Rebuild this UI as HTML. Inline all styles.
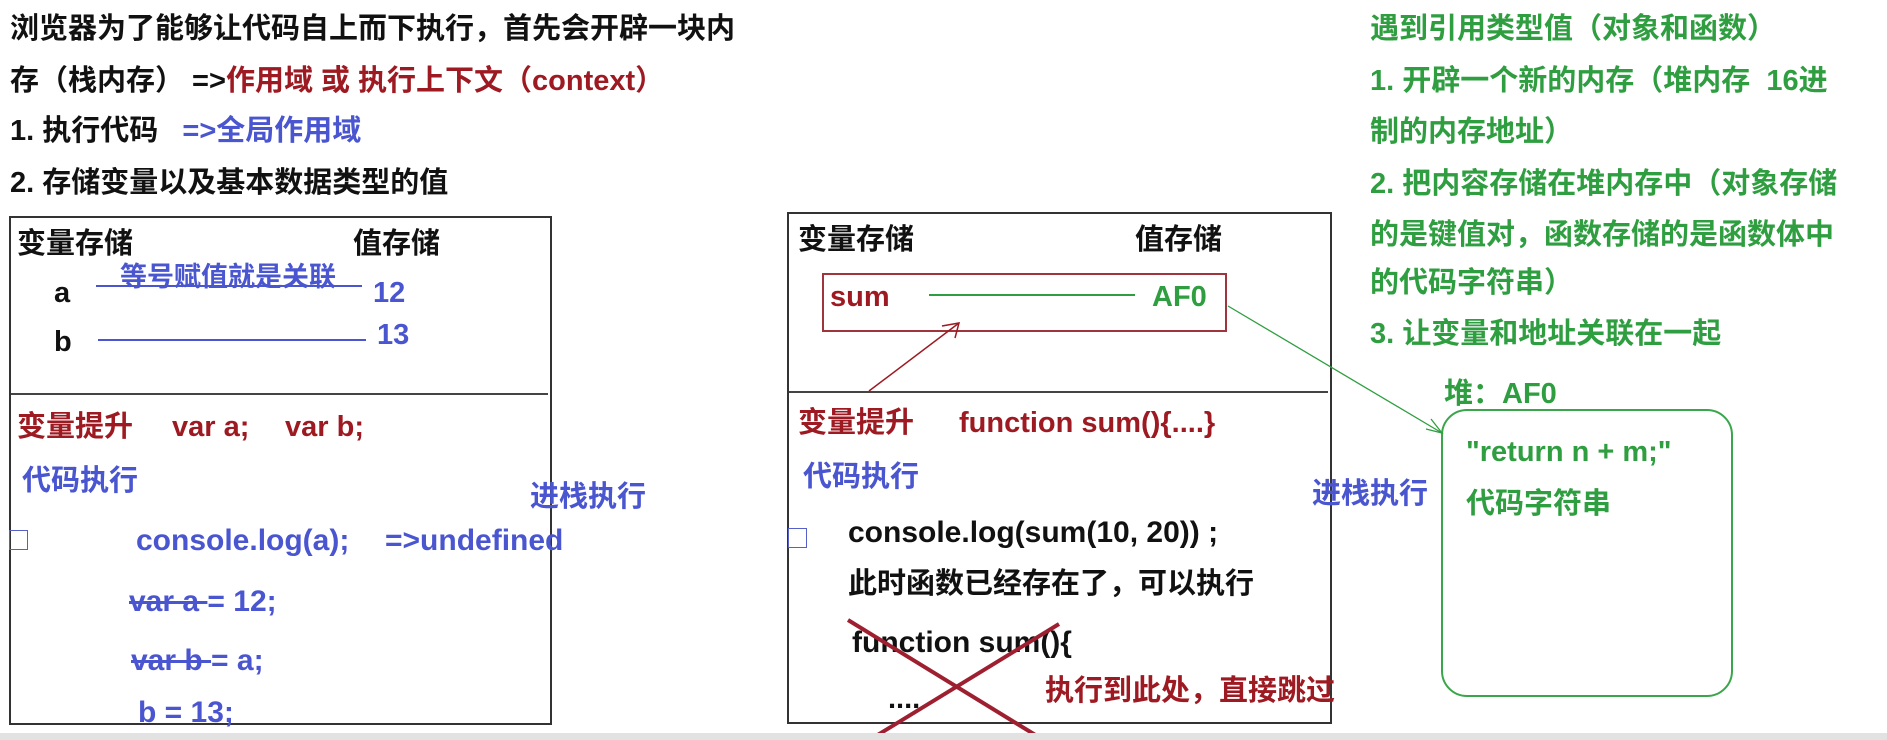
<!DOCTYPE html>
<html><head><meta charset="utf-8"><style>
body{margin:0;width:1887px;height:740px;background:#fff;position:relative;overflow:hidden;font-family:"Liberation Sans","Noto Sans CJK SC",sans-serif;font-weight:bold}
.t{position:absolute;white-space:nowrap;font-size:29px;line-height:32px;transform:translateY(3px)}
.k{color:#111}.r{color:#9e1a22}.b{color:#4a55d0}.g{color:#2f9e40}
.box{position:absolute;border:2px solid #333}
s{text-decoration:line-through;text-decoration-thickness:3px}
</style></head><body>
<div class="t k" style="left:10px;top:10px">浏览器为了能够让代码自上而下执行，首先会开辟一块内</div>
<div class="t k" style="left:10px;top:62px">存（栈内存）&nbsp;=&gt;<span class="r">作用域 或 执行上下文（context）</span></div>
<div class="t k" style="left:10px;top:112px">1. 执行代码 &nbsp;&nbsp;<span class="b">=&gt;全局作用域</span></div>
<div class="t k" style="left:10px;top:164px">2. 存储变量以及基本数据类型的值</div>

<div class="box" style="left:9px;top:216px;width:539px;height:505px"></div>
<div style="position:absolute;left:11px;top:393px;width:537px;height:2px;background:#444"></div>
<div class="t k" style="left:17px;top:225px">变量存储</div>
<div class="t k" style="left:353px;top:225px">值存储</div>
<div class="t b" style="left:120px;top:258px;font-size:27px">等号赋值就是关联</div>
<div class="t k" style="left:54px;top:274px">a</div>
<div class="t b" style="left:373px;top:274px">12</div>
<div class="t k" style="left:54px;top:323px">b</div>
<div class="t b" style="left:377px;top:316px">13</div>
<div style="position:absolute;left:96px;top:285px;width:266px;height:2px;background:#4a55d0"></div>
<div style="position:absolute;left:98px;top:339px;width:268px;height:2px;background:#4a55d0"></div>
<div class="t r" style="left:17px;top:408px">变量提升</div>
<div class="t r" style="left:172px;top:408px">var a;</div>
<div class="t r" style="left:285px;top:408px">var b;</div>
<div class="t b" style="left:22px;top:462px">代码执行</div>
<div class="t b" style="left:530px;top:478px">进栈执行</div>
<div class="t b" style="left:136px;top:522px;font-size:30px">console.log(a);</div>
<div class="t b" style="left:385px;top:522px;font-size:30px">=&gt;undefined</div>
<div class="t b" style="left:129px;top:583px;font-size:30px"><s>var a </s>= 12;</div>
<div class="t b" style="left:131px;top:642px;font-size:30px"><s>var b </s>= a;</div>
<div class="t b" style="left:138px;top:694px;font-size:30px">b = 13;</div>
<div style="position:absolute;left:9px;top:530px;width:17px;height:18px;border:1px solid #5560c8"></div>

<div class="box" style="left:787px;top:212px;width:541px;height:508px"></div>
<div style="position:absolute;left:789px;top:391px;width:539px;height:2px;background:#444"></div>
<div class="t k" style="left:798px;top:221px">变量存储</div>
<div class="t k" style="left:1135px;top:221px">值存储</div>
<div style="position:absolute;left:822px;top:273px;width:401px;height:55px;border:2px solid #a0343c"></div>
<div class="t r" style="left:830px;top:278px">sum</div>
<div style="position:absolute;left:929px;top:294px;width:206px;height:2px;background:#2f9e40"></div>
<div class="t g" style="left:1152px;top:278px">AF0</div>
<div class="t r" style="left:798px;top:404px">变量提升</div>
<div class="t r" style="left:959px;top:404px">function sum(){....}</div>
<div class="t b" style="left:803px;top:458px">代码执行</div>
<div class="t b" style="left:1312px;top:475px">进栈执行</div>
<div class="t k" style="left:848px;top:514px;font-size:30px">console.log(sum(10, 20)) ;</div>
<div class="t k" style="left:848px;top:565px">此时函数已经存在了，可以执行</div>
<div class="t k" style="left:852px;top:624px;font-size:30px">function sum(){</div>
<div class="t k" style="left:888px;top:680px">....</div>
<div class="t r" style="left:1045px;top:672px">执行到此处，直接跳过</div>
<div style="position:absolute;left:788px;top:528px;width:17px;height:18px;border:1px solid #5560c8"></div>

<div class="t g" style="left:1370px;top:10px">遇到引用类型值（对象和函数）</div>
<div class="t g" style="left:1370px;top:62px">1. 开辟一个新的内存（堆内存 &nbsp;16进</div>
<div class="t g" style="left:1370px;top:113px">制的内存地址）</div>
<div class="t g" style="left:1370px;top:165px">2. 把内容存储在堆内存中（对象存储</div>
<div class="t g" style="left:1370px;top:216px">的是键值对，函数存储的是函数体中</div>
<div class="t g" style="left:1370px;top:264px">的代码字符串）</div>
<div class="t g" style="left:1370px;top:315px">3. 让变量和地址关联在一起</div>
<div class="t g" style="left:1444px;top:375px">堆：AF0</div>
<div style="position:absolute;left:1441px;top:409px;width:288px;height:284px;border:2px solid #3aa64a;border-radius:26px"></div>
<div class="t g" style="left:1466px;top:433px">"return n + m;"</div>
<div class="t g" style="left:1466px;top:485px">代码字符串</div>

<svg width="1887" height="740" style="position:absolute;left:0;top:0">
<line x1="869" y1="391" x2="959" y2="323" stroke="#9e1a22" stroke-width="1.5"/>
<polyline points="942,326 959,323 955,338" fill="none" stroke="#9e1a22" stroke-width="1.5"/>
<line x1="1228" y1="306" x2="1442" y2="433" stroke="#2f9e40" stroke-width="1.3"/>
<polyline points="1426,429 1442,433 1431,419" fill="none" stroke="#2f9e40" stroke-width="1.3"/>
<line x1="848" y1="620" x2="1037" y2="736" stroke="#9e2030" stroke-width="4"/>
<line x1="876" y1="736" x2="1059" y2="624" stroke="#9e2030" stroke-width="4"/>
<rect x="0" y="733" width="1887" height="7" fill="#e2e2e2"/>
</svg>
</body></html>
